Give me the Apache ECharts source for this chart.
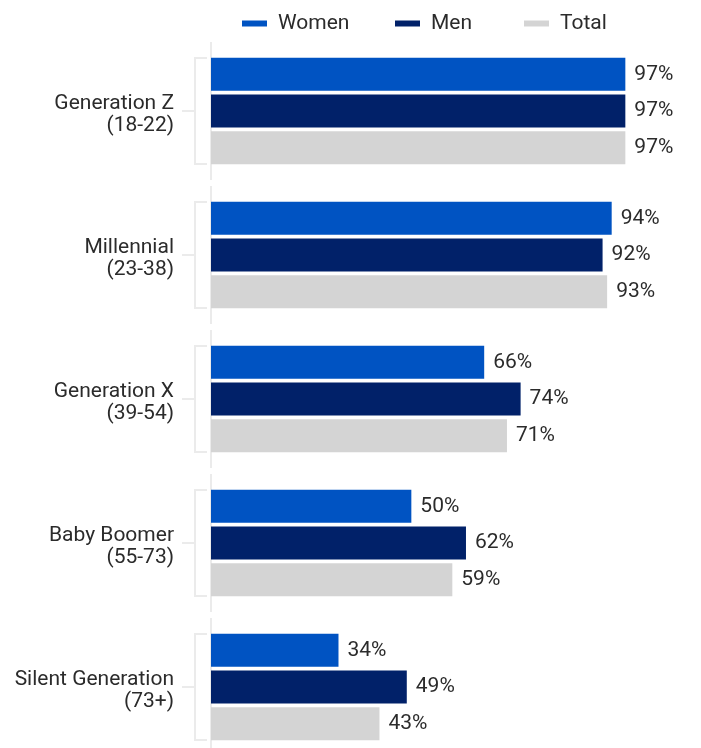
<!DOCTYPE html>
<html>
<head>
<meta charset="utf-8">
<style>
  html, body { margin: 0; padding: 0; background: #fff; }
  #chart { width: 701px; height: 748px; }
</style>
<script src="https://cdn.jsdelivr.net/npm/echarts@6/dist/echarts.min.js"></script>
</head>
<body>
<div id="chart"></div>
<script>
// Share by generation, split by gender
const categories = [
  'Generation Z\n(18-22)',
  'Millennial\n(23-38)',
  'Generation X\n(39-54)',
  'Baby Boomer\n(55-73)',
  'Silent Generation\n(73+)'
];
const seriesNames = ['Women', 'Men', 'Total'];
const women = [97, 94, 66, 50, 34];
const men   = [97, 92, 74, 62, 49];
const total = [97, 93, 71, 59, 43];

const FONT = 'Roboto, "Noto Sans", sans-serif';
const TEXT = '#2b2b2b';
const AXIS_MIN = 6;
const AXIS_MAX = 100;
const RULE = '#ebebeb';
const COLORS = ['#0053c2', '#012169', '#d4d4d4'];
const LEGEND_LEFT = [237, 390, 519];

const chart = echarts.init(document.getElementById('chart'), null, { renderer: 'canvas' });

const labelCfg = {
  show: true,
  position: 'right',
  distance: 9,
  formatter: '{c}%',
  fontFamily: FONT,
  fontSize: 21,
  color: TEXT
};

// Per-category axis segment and grouping bracket, placed from the axes
function renderBracket(params, api) {
  const idx = api.value(1);
  const p = api.coord([AXIS_MIN, idx]);
  const band = api.size([0, 1])[1];
  const x = p[0];
  const cy = p[1];
  const half = 53;
  const bx = x - 16;
  const style = { stroke: RULE, lineWidth: 2, fill: null };
  return {
    type: 'group',
    children: [
      { type: 'line', shape: { x1: x, y1: cy - band / 2 + 3, x2: x, y2: cy + band / 2 - 3 }, style },
      { type: 'polyline', shape: { points: [[x - 4, cy - half], [bx, cy - half], [bx, cy + half], [x - 4, cy + half]] }, style },
      { type: 'line', shape: { x1: bx, y1: cy, x2: bx - 13, y2: cy }, style }
    ]
  };
}

// One legend block per series so each entry sits at its own spot
const legends = seriesNames.map((name, i) => ({
  data: [name],
  left: LEGEND_LEFT[i],
  top: 8,
  icon: 'rect',
  itemWidth: 25,
  itemHeight: 6,
  textStyle: { fontFamily: FONT, fontSize: 21, color: TEXT, padding: [0, 0, 0, 6] }
}));

const values = [women, men, total];

chart.setOption({
  animation: false,
  backgroundColor: '#ffffff',
  legend: legends,
  grid: { left: 211, top: 39, right: 62, bottom: -11, containLabel: false, outerBoundsMode: 'none' },
  xAxis: {
    type: 'value',
    min: AXIS_MIN,
    max: AXIS_MAX,
    show: false
  },
  yAxis: {
    type: 'category',
    data: categories,
    inverse: true,
    axisLine: { show: false },
    axisTick: { show: false },
    splitLine: { show: false },
    axisLabel: {
      margin: 37,
      align: 'right',
      // a short spacer line on top nudges the two-line label slightly down
      formatter: (v) => '{s|}\n' + v.split('\n').map((s) => '{t|' + s + '}').join('\n'),
      rich: {
        s: { height: 8, lineHeight: 8, fontSize: 8 },
        t: { fontFamily: FONT, fontSize: 21, lineHeight: 22, color: TEXT, align: 'right' }
      }
    }
  },
  series: [
    {
      name: 'brackets',
      type: 'custom',
      renderItem: renderBracket,
      data: categories.map((c, i) => [AXIS_MIN, i]),
      silent: true,
      z: 1
    }
  ].concat(seriesNames.map((name, i) => ({
    name,
    type: 'bar',
    data: values[i],
    barWidth: 33,
    barGap: '11%',
    itemStyle: { color: COLORS[i] },
    label: labelCfg,
    z: 2
  })))
});
</script>
</body>
</html>
